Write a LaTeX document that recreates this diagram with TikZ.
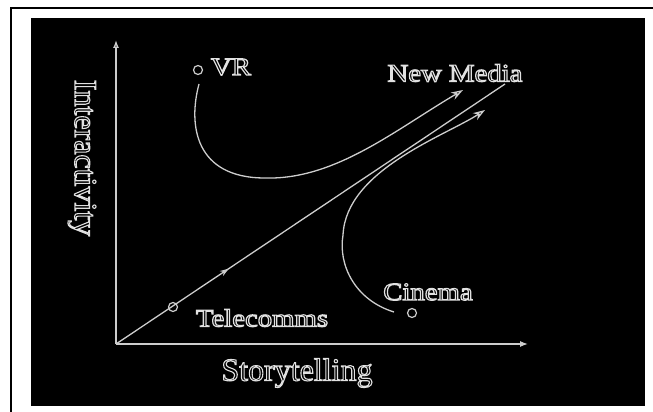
\documentclass[tikz,border=0pt]{standalone}
\usepackage{fontspec}
\setmainfont{Liberation Serif}
\usetikzlibrary{arrows.meta,decorations.markings}
\definecolor{lg}{RGB}{205,205,205}
\definecolor{lt}{RGB}{225,225,225}
\newcommand\outltext[1]{\special{pdf:literal direct 1 Tr 1.1 w}#1\special{pdf:literal direct 0 Tr}}
\begin{document}
\begin{tikzpicture}[x=1pt,y=-1pt,
  ln/.style={draw=lg, line width=1.3pt},
  dot/.style={circle, draw=lg, line width=1.2pt, inner sep=0pt, minimum size=9pt},
  lbl/.style={text=lt, inner sep=0pt, font=\fontsize{25}{25}\selectfont},
  big/.style={text=lt, inner sep=0pt, font=\fontsize{32}{32}\selectfont},
  curv/.style={ln, -{Stealth[length=12pt,width=8pt,open]}}
]
\useasboundingbox (0,0) rectangle (653,412);
\fill[white] (0,0) rectangle (653,412);
\draw[line width=2pt] (11,412) -- (11,8) -- (653,8);
\fill[black] (31,18) rectangle (645,406);

% coordinates
\coordinate (O) at (116,344);
\coordinate (ytip) at (116,40);
\coordinate (xtip) at (528,344);
\coordinate (nm) at (505,84);
\coordinate (vrs) at (199,84);
\coordinate (vrt) at (463,90);
\coordinate (cins) at (394,312);
\coordinate (cint) at (485,110);

% axes
\draw[ln, -{Latex[open, length=8pt, width=6pt]}] (O) -- (ytip);
\draw[ln, -{Latex[length=8pt, width=6pt]}] (O) -- (xtip);

% diagonal
\draw[ln, postaction={decorate},
  decoration={markings, mark=at position 0.29 with {\arrow{Stealth[length=9pt,width=6pt]}}}]
  (O) -- (nm);

% points
\node[dot] (vr) at (198,70) {};
\node[dot] (tel) at (173,307) {};
\node[dot] (cin) at (412,313) {};

% curves
\draw[curv] (vrs) .. controls (188,125) and (195,178) .. (265,178)
  .. controls (335,180) and (395,130) .. (vrt);
\draw[curv] (cins) .. controls (355,300) and (338,265) .. (343,235)
  .. controls (346,170) and (445,136) .. (cint);

% labels
\node[lbl] (vrl) at (231,67) {\outltext{\scalebox{1.15}[1]{VR}}};
\node[lbl] (nml) at (455,73) {\outltext{\scalebox{1.15}[1]{New Media}}};
\node[lbl] (cinl) at (428,292) {\outltext{\scalebox{1.15}[1]{Cinema}}};
\node[lbl] (tell) at (262,318) {\outltext{\scalebox{1.15}[1]{Telecomms}}};
\node[big] (xl) at (297,373) {\outltext{Storytelling}};
\node[big, rotate=-90] (yl) at (82,158) {\outltext{Interactivity}};
\end{tikzpicture}
\end{document}
